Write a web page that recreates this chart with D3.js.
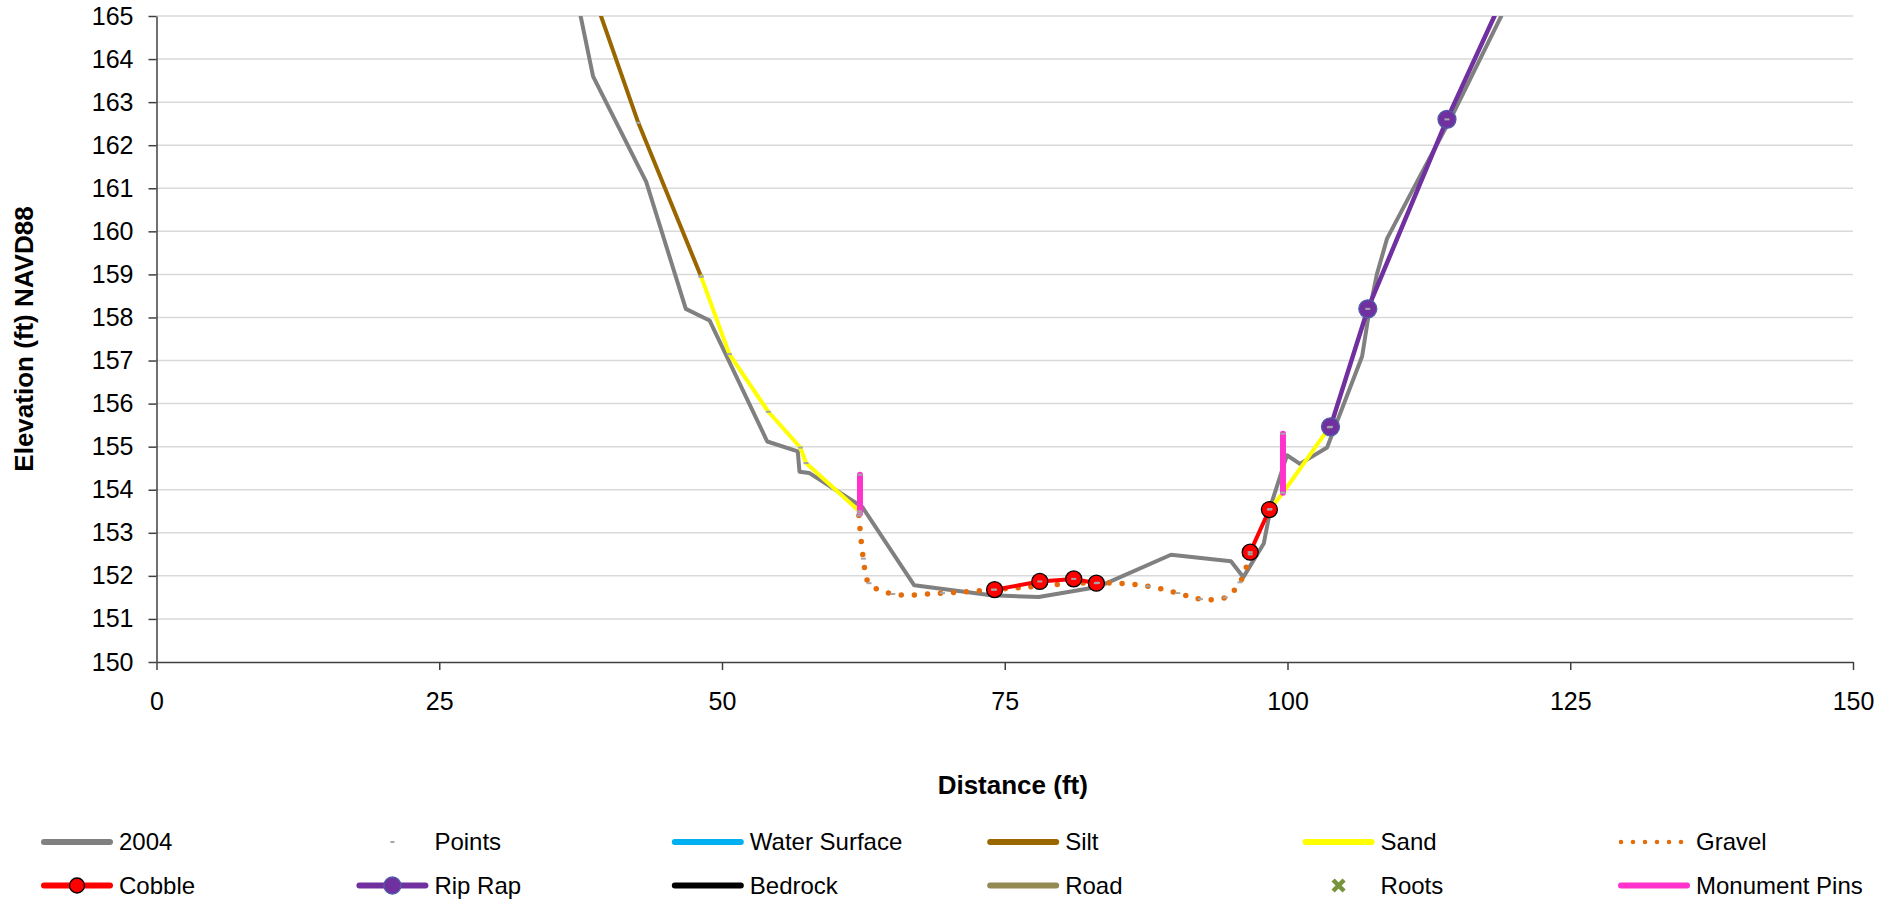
<!DOCTYPE html>
<html>
<head>
<meta charset="utf-8">
<script src="https://cdn.jsdelivr.net/npm/d3@7"></script>
<style>
  body { margin: 0; background: #fff; }
  text { font-family: "Liberation Sans", Arial, sans-serif; fill: #000; }
</style>
</head>
<body>
<script>
const width = 1902;
const height = 901;

// [distance ft, elevation ft]; null breaks a line
const survey2004 = [
  [37.5, 165.0], [38.6, 163.6], [43.3, 161.15], [46.8, 158.2], [48.9, 157.93],
  [54.0, 155.12], [56.7, 154.89], [56.85, 154.42], [57.7, 154.39], [62.4, 153.6],
  [67.0, 151.78], [73.8, 151.55], [78.0, 151.51], [83.2, 151.74], [89.7, 152.49],
  [95.0, 152.34], [96.1, 151.97], [97.9, 152.75], [98.6, 153.7], [99.95, 154.8],
  [101.1, 154.6], [103.5, 154.98], [106.6, 157.1], [107.2, 158.1], [107.9, 159.0],
  [108.8, 159.83], [111.75, 161.3], [114.4, 162.6], [118.9, 165.0]
];
const waterSurface = [];
const silt = [[39.3, 165.0], [42.6, 162.52], [48.15, 158.95]];
const sand = [
  [48.15, 158.95], [50.65, 157.15], [54.1, 155.81], [56.93, 154.98], [57.43, 154.62],
  [62.14, 153.5], null, [98.45, 153.55], [99.6, 153.93], [103.7, 155.45]
];
const gravel = [
  [62.1, 153.4], [62.5, 152.4], [63.0, 151.83], [65.1, 151.58], [69.5, 151.6],
  [74.0, 151.68], [83.2, 151.84], [87.7, 151.76], [90.3, 151.6], [92.3, 151.46],
  [94.5, 151.5], [95.8, 151.85], [96.7, 152.5]
];
const cobble = [
  [74.1, 151.68], [78.1, 151.87], [81.1, 151.93], [83.1, 151.83], null,
  [96.7, 152.55], [98.4, 153.54]
];
const ripRap = [[103.8, 155.46], [107.1, 158.2], [114.1, 162.6], [118.3, 165.0]];
const bedrock = [];
const road = [];
const roots = [];
const monumentPins = [[62.2, 154.35], [62.2, 153.45], null, [99.6, 155.3], [99.6, 153.93]];

const xTicks = [0, 25, 50, 75, 100, 125, 150];
const yTicks = [150, 151, 152, 153, 154, 155, 156, 157, 158, 159, 160, 161, 162, 163, 164, 165];

const seriesNames = [
  "2004", "Points", "Water Surface", "Silt", "Sand", "Gravel",
  "Cobble", "Rip Rap", "Bedrock", "Road", "Roots", "Monument Pins"
];

const styles = {
  "2004": { color: "#808080", width: 4 },
  "Points": { color: "#a6a6a6" },
  "Water Surface": { color: "#00b0f0", width: 4 },
  "Silt": { color: "#996600", width: 4 },
  "Sand": { color: "#ffff00", width: 4 },
  "Gravel": { color: "#e46c0a", width: 5.5, dash: "0 13" },
  "Cobble": { color: "#ff0000", width: 4, marker: "#ff0000", markerStroke: "#000", r: 8 },
  "Rip Rap": { color: "#7030a0", width: 4.5, marker: "#7030a0", markerStroke: "#4f5fa8", r: 9 },
  "Bedrock": { color: "#000000", width: 4 },
  "Road": { color: "#938953", width: 5 },
  "Roots": { color: "#77933c" },
  "Monument Pins": { color: "#ff33cc", width: 6 }
};

let margin = { top: 16, right: 49, bottom: 239, left: 156.5 };

let svg = d3
  .select("body")
  .append("svg")
  .attr("width", width)
  .attr("height", height);

let xScale = d3
  .scaleLinear()
  .domain([0, 150])
  .range([margin.left, width - margin.right]);

let yScale = d3
  .scaleLinear()
  .domain([150, 165])
  .range([height - margin.bottom, margin.top]);

// gridlines
svg
  .append("g")
  .selectAll("line")
  .data(yTicks.filter((d) => d > 150))
  .join("line")
  .attr("x1", xScale(0))
  .attr("x2", xScale(150))
  .attr("y1", (d) => yScale(d))
  .attr("y2", (d) => yScale(d))
  .attr("stroke", "#d9d9d9")
  .attr("stroke-width", 1.5);

let leftAxis = d3.axisLeft(yScale).tickValues(yTicks).tickSize(8).tickSizeOuter(0).tickPadding(15);
let bottomAxis = d3.axisBottom(xScale).tickValues(xTicks).tickSize(8).tickSizeOuter(0).tickPadding(22);

let leftContainer = svg
  .append("g")
  .attr("transform", `translate(${margin.left}, 0)`)
  .call(leftAxis);

let bottomContainer = svg
  .append("g")
  .attr("transform", `translate(0, ${height - margin.bottom})`)
  .call(bottomAxis);

[leftContainer, bottomContainer].forEach((g) => {
  g.selectAll("path, line").attr("stroke", "#404040").attr("stroke-width", 1.5);
  g.selectAll("text").attr("font-size", 25).attr("font-family", '"Liberation Sans", Arial, sans-serif').attr("fill", "#000");
});

svg
  .append("text")
  .attr("transform", `translate(24, ${(yScale(150) + yScale(165)) / 2}) rotate(-90)`)
  .attr("text-anchor", "middle")
  .attr("dy", "0.35em")
  .attr("font-size", 26)
  .attr("font-weight", "bold")
  .text("Elevation (ft) NAVD88");

svg
  .append("text")
  .attr("x", (xScale(0) + xScale(150)) / 2 + 8)
  .attr("y", 785)
  .attr("text-anchor", "middle")
  .attr("dy", "0.35em")
  .attr("font-size", 26)
  .attr("font-weight", "bold")
  .text("Distance (ft)");

svg
  .append("clipPath")
  .attr("id", "plot-clip")
  .append("rect")
  .attr("x", xScale(0))
  .attr("y", yScale(165))
  .attr("width", xScale(150) - xScale(0))
  .attr("height", yScale(150) - yScale(165));

let plot = svg.append("g").attr("clip-path", "url(#plot-clip)");

let line = d3
  .line()
  .defined((d) => d !== null)
  .x((d) => xScale(d[0]))
  .y((d) => yScale(d[1]));

function drawLine(data, name, curve) {
  let s = styles[name];
  plot
    .append("path")
    .datum(data)
    .attr("d", line.curve(curve || d3.curveLinear)(data))
    .attr("fill", "none")
    .attr("stroke", s.color)
    .attr("stroke-width", s.width)
    .attr("stroke-linejoin", "round")
    .attr("stroke-linecap", "round")
    .attr("stroke-dasharray", s.dash || null);
}

function drawMarkers(data, name) {
  let s = styles[name];
  plot
    .append("g")
    .selectAll("circle")
    .data(data.filter((d) => d !== null && d[1] < 165))
    .join("circle")
    .attr("cx", (d) => xScale(d[0]))
    .attr("cy", (d) => yScale(d[1]))
    .attr("r", s.r)
    .attr("fill", s.marker)
    .attr("stroke", s.markerStroke)
    .attr("stroke-width", 1.3);
}

drawLine(survey2004, "2004");
drawLine(waterSurface, "Water Surface");
drawLine(silt, "Silt");
drawLine(sand, "Sand");
drawLine(gravel, "Gravel", d3.curveCatmullRom.alpha(0.5));
drawLine(cobble, "Cobble");
drawMarkers(cobble, "Cobble");
drawLine(ripRap, "Rip Rap");
drawMarkers(ripRap, "Rip Rap");
drawLine(bedrock, "Bedrock");
drawLine(road, "Road");
drawLine(monumentPins, "Monument Pins");

// survey points shown as small dashes
let points = [].concat(silt, sand, gravel, cobble, ripRap, monumentPins)
  .filter((d) => d !== null && d[1] < 165);

plot
  .append("g")
  .selectAll("rect")
  .data(points)
  .join("rect")
  .attr("x", (d) => xScale(d[0]) - 2.5)
  .attr("y", (d) => yScale(d[1]) - 1)
  .attr("width", 5)
  .attr("height", 2)
  .attr("fill", styles["Points"].color);

// legend
let legend = svg.append("g");
seriesNames.forEach((name, i) => {
  let s = styles[name];
  let col = i % 6;
  let row = Math.floor(i / 6);
  let tx = 119 + col * 315.4;
  let ty = row === 0 ? 842 : 885.5;
  let g = legend.append("g");
  if (name === "Points") {
    g.append("rect").attr("x", tx - 44).attr("y", ty - 1).attr("width", 4).attr("height", 2).attr("fill", s.color);
  } else if (name === "Roots") {
    g.append("path")
      .attr("d", d3.symbol(d3.symbolX).size(80)())
      .attr("transform", `translate(${tx - 42}, ${ty})`)
      .attr("stroke", s.color)
      .attr("stroke-width", 4.5)
      .attr("fill", "none");
  } else {
    g.append("line")
      .attr("x1", tx - 75)
      .attr("x2", tx - 9)
      .attr("y1", ty)
      .attr("y2", ty)
      .attr("stroke", s.color)
      .attr("stroke-width", name === "Gravel" ? 4.5 : 6)
      .attr("stroke-linecap", "round")
      .attr("stroke-dasharray", name === "Gravel" ? "0 12" : null);
    if (s.marker) {
      g.append("circle")
        .attr("cx", tx - 42)
        .attr("cy", ty)
        .attr("r", s.r - 0.5)
        .attr("fill", s.marker)
        .attr("stroke", s.markerStroke)
        .attr("stroke-width", 1.3);
    }
  }
  g.append("text")
    .attr("x", tx)
    .attr("y", ty)
    .attr("dy", "0.35em")
    .attr("font-size", 24)
    .text(name);
});
</script>
</body>
</html>
